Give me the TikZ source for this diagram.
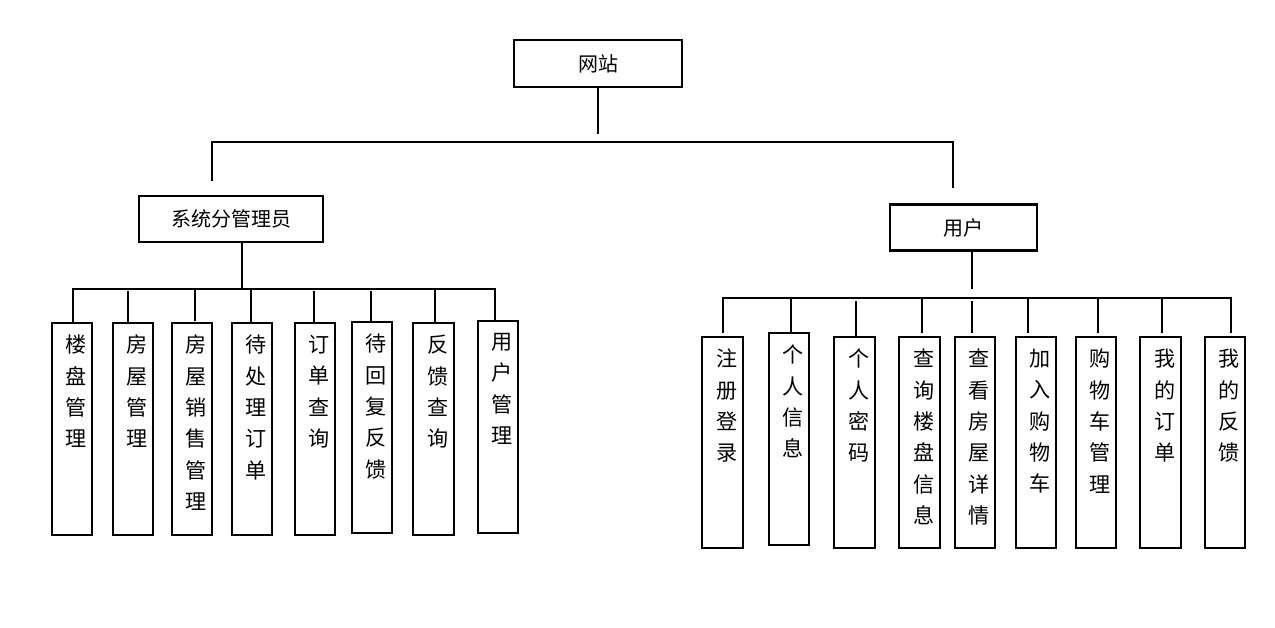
\documentclass[tikz,border=0pt]{standalone}
\usepackage{fontspec}
\newfontfamily\cjk{Noto Sans CJK SC}
\def\px{0.75pt}
\tikzset{
  conn/.style={line width=1.6pt, line cap=rect},
  hbox/.style={draw, line width=1.6pt, inner sep=0pt, font=\cjk\fontsize{15pt}{18pt}\selectfont},
  leafbox/.style={draw, line width=1.6pt, inner sep=0pt},
  leaftext/.style={anchor=north, inner sep=0pt, align=center, font=\cjk\fontsize{15.8pt}{23.5pt}\selectfont}
}
% #1 name, #2 x1, #3 x2, #4 top, #5 bottom, #6 drop x, #7 drop start y, #8 drop end y, #9 text
\newcommand{\leafitem}[9]{%
  \node[leafbox, minimum width={(#3-#2)*\px}, minimum height={(#5-#4)*\px}] (#1) at ({(#2+#3)/2},{(#4+#5)/2}) {};
  \node[leaftext] (#1t) at ([xshift=4.5*\px, yshift=-13*\px]#1.north) {#9};
  \coordinate (#1d) at (#6,#7);
  \coordinate (#1e) at (#6,#8);
  \draw[conn] (#1d) -- (#1e);
}
\begin{document}
\begin{tikzpicture}[x=0.75pt, y=-0.75pt]
\useasboundingbox (0,0) rectangle (1275,628);
\fill[white] (0,0) rectangle (1275,628);

% top level
\node[hbox, minimum width=168*\px, minimum height=47*\px] (site) at (598,63.5) {网站};
\coordinate (siteEnd) at (598,133);
\draw[conn] (site.south) -- (siteEnd);
\coordinate (mL) at (212,142);
\coordinate (mR) at (953,142);
\draw[conn] (mL) -- (mR);
\coordinate (mLe) at (212,180);
\coordinate (mRe) at (953,187);
\draw[conn] (mL) -- (mLe);
\draw[conn] (mR) -- (mRe);

% admin
\node[hbox, minimum width=184*\px, minimum height=46*\px] (adm) at (231,219) {系统分管理员};
\coordinate (admBus) at (242,289);
\draw[conn] (adm.south -| admBus) -- (admBus);
\coordinate (lbA) at (73,289);
\coordinate (lbB) at (495,289);
\draw[conn] (lbA) -- (lbB);

\leafitem{a1}{52}{92}{323}{535}{73}{289}{321}{楼\\盘\\管\\理}
\leafitem{a2}{113}{153}{323}{535}{128}{292}{321}{房\\屋\\管\\理}
\leafitem{a3}{172}{212}{323}{535}{195}{290}{320}{房\\屋\\销\\售\\管\\理}
\leafitem{a4}{232}{272}{323}{535}{251}{290}{321}{待\\处\\理\\订\\单}
\leafitem{a5}{295}{335}{323}{535}{314}{292}{322}{订\\单\\查\\询}
\leafitem{a6}{352}{392}{322}{533}{371}{292}{320}{待\\回\\复\\反\\馈}
\leafitem{a7}{413}{454}{323}{535}{435}{290}{321}{反\\馈\\查\\询}
\leafitem{a8}{478}{518}{321}{533}{495}{289}{319}{用\\户\\管\\理}

% user
\node[hbox, minimum width=147*\px, minimum height=46*\px] (usr) at (963.5,227.5) {用户};
\coordinate (usrEnd) at (972,288);
\draw[conn] (usr.south -| usrEnd) -- (usrEnd);
\coordinate (rbA) at (723,298);
\coordinate (rbB) at (1231,298);
\draw[conn] (rbA) -- (rbB);

\leafitem{b1}{702}{743}{337}{548}{723}{298}{332}{注\\册\\登\\录}
\leafitem{b2}{769}{809}{333}{545}{791}{298}{333}{个\\人\\信\\息}
\leafitem{b3}{834}{875}{337}{548}{856}{302}{337}{个\\人\\密\\码}
\leafitem{b4}{899}{940}{337}{548}{922}{298}{332}{查\\询\\楼\\盘\\信\\息}
\leafitem{b5}{955}{995}{337}{548}{972}{302}{332}{查\\看\\房\\屋\\详\\情}
\leafitem{b6}{1016}{1056}{337}{548}{1028}{298}{332}{加\\入\\购\\物\\车}
\leafitem{b7}{1076}{1116}{337}{548}{1098}{298}{332}{购\\物\\车\\管\\理}
\leafitem{b8}{1140}{1181}{337}{548}{1162}{298}{332}{我\\的\\订\\单}
\leafitem{b9}{1205}{1245}{337}{548}{1231}{298}{332}{我\\的\\反\\馈}
\end{tikzpicture}
\end{document}
